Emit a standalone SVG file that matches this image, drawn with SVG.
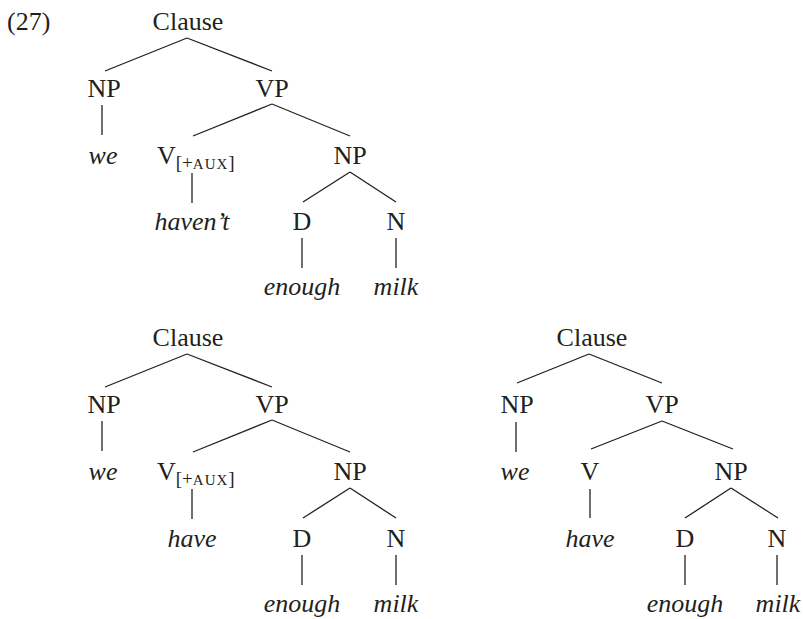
<svg xmlns="http://www.w3.org/2000/svg" width="803" height="619" viewBox="0 0 803 619">
<style>
text{font-family:"Liberation Serif","Times New Roman",serif;font-size:26px;fill:#231f20;text-anchor:middle}
.w{font-style:italic}
.sub{font-size:19px}
.sc{font-size:15px;letter-spacing:1px}
.st{text-anchor:start}
line{stroke:#231f20;stroke-width:1.3;fill:none}
</style>
<rect width="803" height="619" fill="#fff"/>
<text class="st" x="7" y="30">(27)</text>
<g id="tree1">
<g id="t1-clause"><text x="188" y="30">Clause</text></g>
<g id="t1-np"><text x="104" y="97">NP</text></g>
<g id="t1-vp"><text x="272" y="97">VP</text></g>
<g id="t1-we"><text class="w" x="103" y="164">we</text></g>
<g id="t1-v"><text class="st" x="157" y="164">V<tspan class="sub" dy="5">[+</tspan><tspan class="sc">AUX</tspan><tspan class="sub">]</tspan></text></g>
<g id="t1-np2"><text x="350" y="164">NP</text></g>
<g id="t1-havent"><text class="w" x="192" y="230">haven’t</text></g>
<g id="t1-d"><text x="302" y="230">D</text></g>
<g id="t1-n"><text x="396" y="230">N</text></g>
<g id="t1-enough"><text class="w" x="302" y="295">enough</text></g>
<g id="t1-milk"><text class="w" x="396" y="295">milk</text></g>
</g>
<g id="tree2">
<g id="t2-clause"><text x="188" y="346">Clause</text></g>
<g id="t2-np"><text x="104" y="413">NP</text></g>
<g id="t2-vp"><text x="272" y="413">VP</text></g>
<g id="t2-we"><text class="w" x="103" y="480">we</text></g>
<g id="t2-v"><text class="st" x="157" y="480">V<tspan class="sub" dy="5">[+</tspan><tspan class="sc">AUX</tspan><tspan class="sub">]</tspan></text></g>
<g id="t2-np2"><text x="350" y="480">NP</text></g>
<g id="t2-have"><text class="w" x="192" y="547">have</text></g>
<g id="t2-d"><text x="302" y="547">D</text></g>
<g id="t2-n"><text x="396" y="547">N</text></g>
<g id="t2-enough"><text class="w" x="302" y="612">enough</text></g>
<g id="t2-milk"><text class="w" x="396" y="612">milk</text></g>
</g>
<g id="tree3">
<g id="t3-clause"><text x="592" y="346">Clause</text></g>
<g id="t3-np"><text x="517" y="413">NP</text></g>
<g id="t3-vp"><text x="662" y="413">VP</text></g>
<g id="t3-we"><text class="w" x="515" y="480">we</text></g>
<g id="t3-v"><text x="590" y="480">V</text></g>
<g id="t3-np2"><text x="731" y="480">NP</text></g>
<g id="t3-have"><text class="w" x="590" y="547">have</text></g>
<g id="t3-d"><text x="685" y="547">D</text></g>
<g id="t3-n"><text x="777" y="547">N</text></g>
<g id="t3-enough"><text class="w" x="685" y="612">enough</text></g>
<g id="t3-milk"><text class="w" x="778" y="612">milk</text></g>
</g>
<g id="connectors">
<line x1="187" y1="38" x2="105" y2="71"/>
<line x1="187" y1="38" x2="272" y2="71"/>
<line x1="102" y1="105" x2="102" y2="135"/>
<line x1="272" y1="104" x2="193" y2="136"/>
<line x1="272" y1="104" x2="350" y2="136"/>
<line x1="192" y1="173" x2="192" y2="203"/>
<line x1="350" y1="172" x2="303" y2="202"/>
<line x1="350" y1="172" x2="396" y2="202"/>
<line x1="302" y1="238" x2="302" y2="268"/>
<line x1="396" y1="238" x2="396" y2="268"/>

<line x1="187" y1="354" x2="105" y2="387"/>
<line x1="187" y1="354" x2="272" y2="387"/>
<line x1="102" y1="421" x2="102" y2="451"/>
<line x1="272" y1="420" x2="193" y2="452"/>
<line x1="272" y1="420" x2="350" y2="452"/>
<line x1="192" y1="489" x2="192" y2="519"/>
<line x1="350" y1="488" x2="303" y2="518"/>
<line x1="350" y1="488" x2="396" y2="518"/>
<line x1="302" y1="555" x2="302" y2="585"/>
<line x1="396" y1="555" x2="396" y2="585"/>

<line x1="589" y1="354" x2="517" y2="383"/>
<line x1="589" y1="354" x2="662" y2="383"/>
<line x1="516" y1="422" x2="516" y2="452"/>
<line x1="662" y1="421" x2="591" y2="449"/>
<line x1="662" y1="421" x2="733" y2="449"/>
<line x1="590" y1="489" x2="590" y2="518"/>
<line x1="731" y1="488" x2="685" y2="518"/>
<line x1="731" y1="488" x2="778" y2="518"/>
<line x1="685" y1="555" x2="685" y2="585"/>
<line x1="777" y1="555" x2="777" y2="585"/>
</g>
</svg>
